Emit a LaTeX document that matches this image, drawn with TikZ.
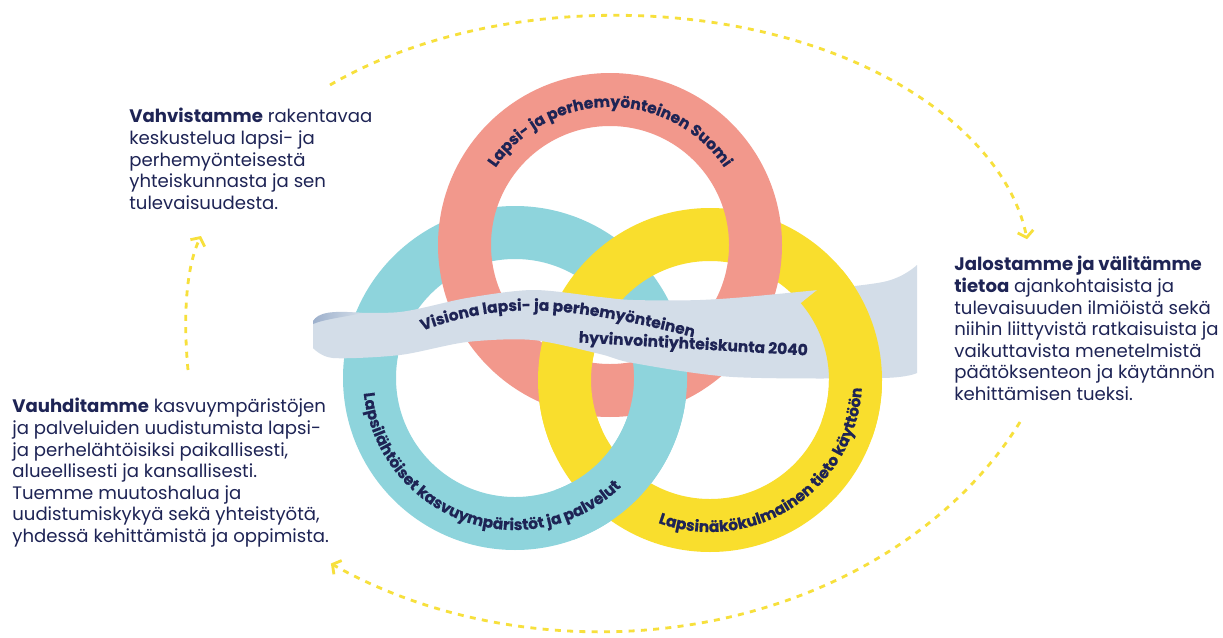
\documentclass[tikz,border=0pt]{standalone}
\usepackage{fontspec}
\setmainfont{Poppins}
\usetikzlibrary{decorations.text,arrows.meta}
\definecolor{ringpink}{HTML}{F2988C}
\definecolor{ringcyan}{HTML}{8ED4DC}
\definecolor{ringyellow}{HTML}{F9DE2D}
\definecolor{ribbongrey}{HTML}{D3DDE8}
\definecolor{ribbonshade}{HTML}{9DB0CC}
\definecolor{navy}{HTML}{1E2455}
\definecolor{arrowyellow}{HTML}{F7E03C}
\tikzset{
ring/.style={draw=#1, line width=1.06cm},
ringtext/.style={decorate, decoration={text along path, text align=center,
    text color=navy, text={#1}}},
cyclearrow/.style={draw=arrowyellow, line width=1.6pt,
    dash pattern=on 3.4pt off 3.6pt, -{Straight Barb[length=3.5pt,width=9pt]}},
infotext/.style={align=left, text=navy, inner sep=0pt, anchor=north west,
    font=\fontsize{10.3}{12.3}\selectfont}
}
\newcommand{\ringfont}{\bfseries\addfontfeatures{FakeBold=0.5}\fontsize{8.8}{10}\selectfont}

\begin{document}
\begin{tikzpicture}[x=0.02cm, y=0.02cm]
	\fill[white] (0,0) rectangle (1223,637);
	\useasboundingbox (0,0) rectangle (1223,637);
	\coordinate (pinkc) at (610,392);
	\coordinate (cyanc) at (515,259);
	\coordinate (yellowc) at (710,257);

	\draw[ring=ringcyan] (cyanc) circle[radius=145.5];
	\draw[ring=ringyellow] (yellowc) circle[radius=145.5];
	\draw[ring=ringpink] (pinkc) circle[radius=145.5];
	\draw[ring=ringyellow] (yellowc) ++(150:145.5) arc[start angle=150, end angle=205, radius=145.5];
	\draw[ring=ringcyan] (cyanc) ++(-70:145.5) arc[start angle=-70, end angle=20, radius=145.5];

	\fill[ribbongrey] plot[smooth] coordinates {(313,316) (333,324) (400,325) (467,339)
		(533,347) (600,340) (633,337) (700,337) (767,342) (883,355) (917,372)}
		-- plot[smooth] coordinates {(917,264) (883,259) (733,260) (633,274) (600,283)
		(533,297) (467,295) (400,282) (333,279) (313,289)} -- cycle;
	\shade[left color=ribbonshade, right color=ribbongrey] (313,316)
		.. controls (318,324) and (330,327) .. (362,324)
		.. controls (345,320) and (325,318) .. (313,313) -- cycle;
	\draw[ring=ringyellow] (yellowc) ++(-20:145.5) arc[start angle=-20, end angle=40, radius=145.5];

	\path[ringtext={|\ringfont|Visiona lapsi- ja perhemyönteinen}]
		(416,304) .. controls (494,333) and (552,337) .. (700,298);
	\node[text=navy, font=\ringfont, rotate=-3.3, anchor=base] (vision) at (693,288)
		{hyvinvointiyhteiskunta 2040};

	\path[ringtext={|\ringfont|Lapsi- ja perhemyönteinen Suomi}]
		(pinkc) ++(175:138) arc[start angle=175, end angle=5, radius=138];
	\path[ringtext={|\ringfont|Lapsilähtöiset kasvuympäristöt ja palvelut}]
		(cyanc) ++(160:152) arc[start angle=160, end angle=340, radius=152];
	\path[ringtext={|\ringfont|Lapsinäkökulmainen tieto käyttöön}]
		(yellowc) ++(213:152) arc[start angle=213, end angle=394, radius=152];

	\node[infotext] (vahv) at (129,529) {{\bfseries Vahvistamme} rakentavaa\\
		keskustelua lapsi- ja\\ perhemyönteisestä\\ yhteiskunnasta ja sen\\ tulevaisuudesta.};
	\node[infotext] (jalo) at (954,381) {{\bfseries Jalostamme ja välitämme}\\
		{\bfseries tietoa} ajankohtaisista ja\\ tulevaisuuden ilmiöistä sekä\\
		niihin liittyvistä ratkaisuista ja\\ vaikuttavista menetelmistä\\
		päätöksenteon ja käytännön\\ kehittämisen tueksi.};
	\node[infotext] (vauh) at (12,239) {{\bfseries Vauhditamme} kasvuympäristöjen\\
		ja palveluiden uudistumista lapsi-\\ ja perhelähtöisiksi paikallisesti,\\
		alueellisesti ja kansallisesti.\\ Tuemme muutoshalua ja\\
		uudistumiskykyä sekä yhteistyötä,\\ yhdessä kehittämistä ja oppimista.};

	\coordinate (topstart) at (330,552);
	\coordinate (lowstart) at (1020,215);
	\coordinate (leftstart) at (188,267);
	\coordinate (leftend) at (201,401);
	\draw[cyclearrow] (topstart) arc[start angle=133.4, end angle=7, x radius=415, y radius=255];
	\draw[cyclearrow] (lowstart) arc[start angle=-26.6, end angle=-124.9, x radius=470, y radius=380];
	\draw[cyclearrow] (leftstart) .. controls (183,320) and (186,370) .. (leftend);
\end{tikzpicture}
\end{document}
